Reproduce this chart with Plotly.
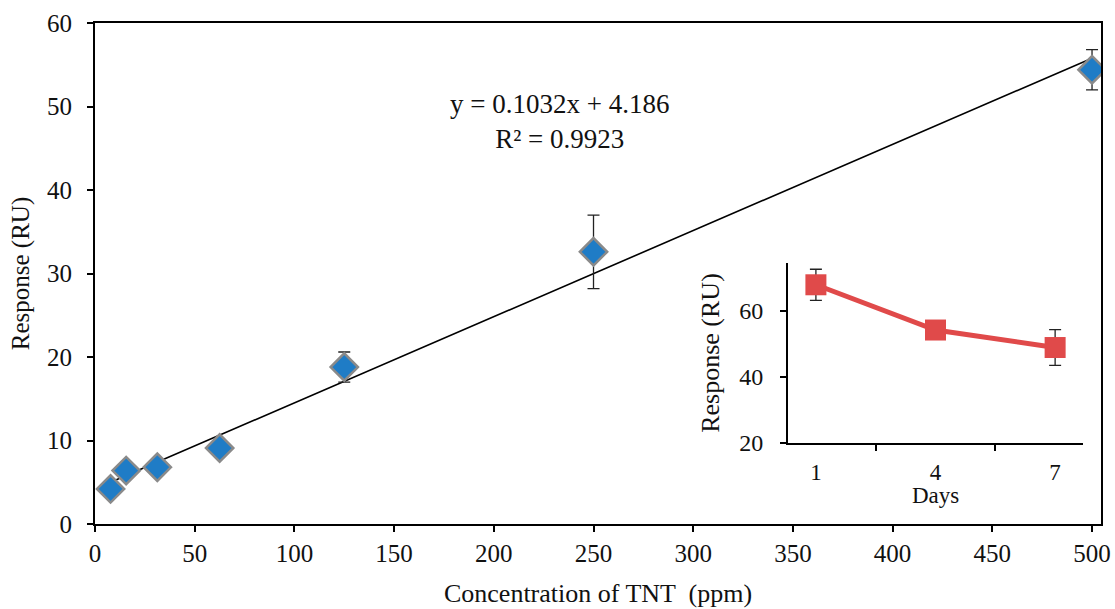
import plotly.graph_objects as go

# Main data
conc = [7.8125, 15.625, 31.25, 62.5, 125, 250, 500]
resp = [4.2, 6.4, 6.8, 9.1, 18.8, 32.6, 54.4]
resp_err = [0.5, 0.6, 0.9, 0.8, 1.8, 4.4, 2.4]
slope = 0.1032
intercept = 4.186
eq_text = "y = 0.1032x + 4.186<br>R² = 0.9923"

# Inset data
days = ["1", "4", "7"]
days_resp = [67.9, 54.2, 48.9]
days_err = [4.7, 0.8, 5.4]

x_ticks = [0, 50, 100, 150, 200, 250, 300, 350, 400, 450, 500]
y_ticks = [0, 10, 20, 30, 40, 50, 60]
inset_y_ticks = [20, 40, 60]

FONT = "Liberation Serif"

fig = go.Figure()

# Trendline
tx = [min(conc), max(conc)]
ty = [slope * v + intercept for v in tx]
fig.add_trace(go.Scatter(x=tx, y=ty, mode="lines",
                         line=dict(color="black", width=1.6),
                         showlegend=False, hoverinfo="skip"))

fig.add_trace(go.Scatter(
    x=conc, y=resp, mode="markers",
    marker=dict(symbol="diamond", size=21, color="#1f7cc6",
                line=dict(color="#8a8a8a", width=2.5)),
    error_y=dict(type="data", array=resp_err, color="#222222",
                 thickness=1.3, width=6),
    showlegend=False))

fig.add_trace(go.Scatter(
    x=days, y=days_resp, mode="lines+markers", xaxis="x2", yaxis="y2",
    line=dict(color="#e04a4a", width=5),
    marker=dict(symbol="square", size=21, color="#e04a4a"),
    error_y=dict(type="data", array=days_err, color="#222222",
                 thickness=1.3, width=6),
    showlegend=False))

fig.update_layout(
    width=1115, height=609,
    margin=dict(l=95, r=14, t=23, b=85),
    paper_bgcolor="white", plot_bgcolor="white",
    font=dict(family=FONT, color="#111111", size=25),
    xaxis=dict(range=[0, 504.5], tickvals=x_ticks, showgrid=False,
               automargin=False,
               zeroline=False, showline=True, linecolor="black", linewidth=2,
               mirror=True, ticks="outside", ticklen=6, tickwidth=1.5,
               tickcolor="black", tickfont=dict(size=25),
               title=dict(text="Concentration of TNT  (ppm)",
                          font=dict(size=26), standoff=18)),
    yaxis=dict(range=[0, 60], tickvals=y_ticks, showgrid=False,
               automargin=False,
               zeroline=False, showline=True, linecolor="black", linewidth=2,
               mirror=True, ticks="outside", ticklen=6, tickwidth=1.5,
               tickcolor="black", tickfont=dict(size=25), ticklabelstandoff=10,
               title=dict(text="Response (RU)", font=dict(size=25), standoff=10)),
    xaxis2=dict(domain=[0.6889, 0.9821], anchor="y2", type="category",
                automargin=False,
                tickson="boundaries", showgrid=False, zeroline=False,
                showline=True, linecolor="black", linewidth=2,
                ticks="outside", ticklen=6, tickwidth=1.5, tickcolor="black",
                tickfont=dict(size=23), ticklabelstandoff=7),
    yaxis2=dict(domain=[0.1617, 0.521], anchor="x2", range=[20, 74.5],
                automargin=False,
                tickvals=inset_y_ticks, showgrid=False, zeroline=False,
                showline=True, linecolor="black", linewidth=2,
                ticks="outside", ticklen=6, tickwidth=1.5, tickcolor="black",
                tickfont=dict(size=24), ticklabelstandoff=12,
                title=dict(text="Response (RU)", font=dict(size=26), standoff=12)),
    annotations=[
        dict(text=eq_text, x=0.462, y=0.804, xref="paper", yref="paper",
             xanchor="center", yanchor="middle",
             showarrow=False, align="center",
             font=dict(size=27, family=FONT)),
        dict(text="Days", x=0.8355, y=0.056, xref="paper", yref="paper",
             xanchor="center", yanchor="middle", showarrow=False,
             font=dict(size=23, family=FONT)),
    ],
)

fig.write_html("out.html",
               config={"displayModeBar": False},
               post_script="document.body.style.margin='0';"
                           "document.body.style.overflow='hidden';")
